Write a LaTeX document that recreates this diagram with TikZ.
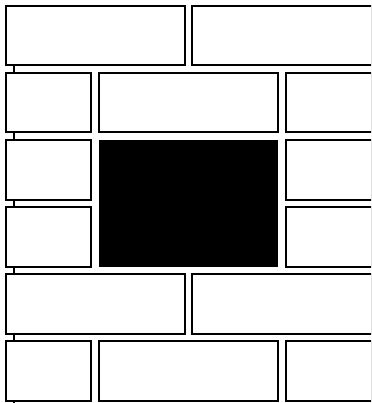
\documentclass[tikz,border=0pt]{standalone}
\begin{document}
\begin{tikzpicture}[x=1pt,y=-1pt,
  brick/.style={draw=black,fill=white,line width=2pt,rectangle,inner sep=0pt,minimum height=59.5pt},
  hole/.style={draw=black,fill=black,line width=1pt,rectangle,inner sep=0pt},
  rail/.style={draw=black,line width=1.6pt}]
\useasboundingbox (0,0) rectangle (371,403);
\clip (0,0) rectangle (371,403);
\coordinate (ltop) at (14,60);
\coordinate (lbot) at (14,403);
\draw[rail] (ltop) -- (lbot);
% row 1
\node[brick,minimum width=179pt] (r1a) at (95.5,35.75) {};
\node[brick,minimum width=180pt] (r1b) at (282,35.75) {};
% row 2
\node[brick,minimum width=85pt] (r2a) at (48.5,102.75) {};
\node[brick,minimum width=179pt] (r2b) at (188.5,102.75) {};
\node[brick,minimum width=86pt] (r2c) at (329,102.75) {};
% row 3
\node[brick,minimum width=85pt] (r3a) at (48.5,169.75) {};
\node[brick,minimum width=86pt] (r3c) at (329,169.75) {};
% row 4
\node[brick,minimum width=85pt] (r4a) at (48.5,236.75) {};
\node[brick,minimum width=86pt] (r4c) at (329,236.75) {};
% hole
\node[hole,minimum width=178pt,minimum height=126pt] (hole) at (188.5,203.25) {};
% row 5
\node[brick,minimum width=179pt] (r5a) at (95.5,303.75) {};
\node[brick,minimum width=180pt] (r5b) at (282,303.75) {};
% row 6
\node[brick,minimum width=85pt] (r6a) at (48.5,370.75) {};
\node[brick,minimum width=179pt] (r6b) at (188.5,370.75) {};
\node[brick,minimum width=86pt] (r6c) at (329,370.75) {};
\end{tikzpicture}
\end{document}
